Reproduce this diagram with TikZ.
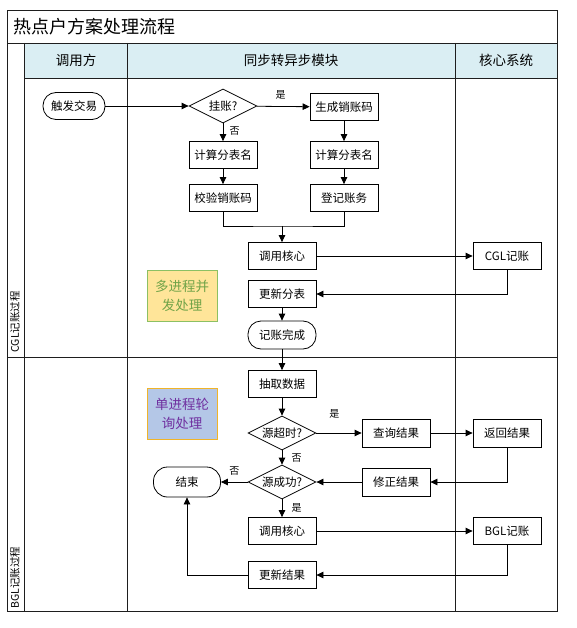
\documentclass[tikz,border=0pt]{standalone}
\usepackage{fontspec}
\setmainfont{Noto Sans CJK SC}
\usepackage{tikz}
\usetikzlibrary{arrows.meta,shapes.geometric}
\definecolor{HeadFill}{RGB}{218,238,243}
\definecolor{NoteYellow}{RGB}{255,229,153}
\definecolor{NoteGreen}{RGB}{140,192,99}
\definecolor{TextGreen}{RGB}{112,163,72}
\definecolor{NoteBlue}{RGB}{180,199,231}
\definecolor{NoteGold}{RGB}{240,180,41}
\definecolor{TextPurple}{RGB}{112,48,160}
\definecolor{LineGray}{RGB}{30,30,30}

\begin{document}
\begin{tikzpicture}[x=1pt,y=-1pt,line width=0.8pt,
    font=\fontsize{11.5}{13}\selectfont,
    proc/.style={draw, rectangle, minimum width=68pt, minimum height=27pt, inner sep=1pt},
    term/.style={draw, rectangle, rounded corners=13pt, minimum width=68pt, minimum height=28pt, inner sep=1pt},
    decide/.style={draw, diamond, aspect=2, minimum width=68pt, minimum height=34pt, inner sep=0.5pt},
    note/.style={rectangle, line width=1pt, minimum width=70pt, minimum height=51pt, align=center, font=\fontsize{13.5}{19}\selectfont},
    arr/.style={-{Triangle[length=7pt,width=6.5pt]}},
    yn/.style={font=\fontsize{10}{12}\selectfont}]
        \useasboundingbox (0,0) rectangle (577,628);
        \fill[HeadFill] (24,43) rectangle (557,78);
        \draw[LineGray] (7,10) rectangle (557,611);
        \draw[LineGray] (7,43) -- (557,43);
        \draw[LineGray] (24,78) -- (557,78);
        \draw[LineGray] (7,357) -- (557,357);
        \draw[LineGray] (24,43) -- (24,611);
        \draw[LineGray] (127,43) -- (127,611);
        \draw[LineGray] (455,43) -- (455,611);
        \node[anchor=west, font=\fontsize{18}{20}\selectfont] (title) at (10,27) {热点户方案处理流程};
        \node[font=\fontsize{13.5}{15}\selectfont] (colcaller) at (76,60) {调用方};
        \node[font=\fontsize{13.5}{15}\selectfont] (colmodule) at (291,60) {同步转异步模块};
        \node[font=\fontsize{13.5}{15}\selectfont] (colcore) at (506,60) {核心系统};
        \node[rotate=90, anchor=west, inner sep=0pt, font=\fontsize{10.5}{12}\selectfont] (lanecgl) at (15,353) {CGL记账过程};
        \node[rotate=90, anchor=west, inner sep=0pt, font=\fontsize{10.5}{12}\selectfont] (lanebgl) at (15,609) {BGL记账过程};

        \node[note, draw=NoteGreen, fill=NoteYellow, text=TextGreen] (multi) at (182,296) {多进程并\\发处理};
        \node[note, draw=NoteGold, fill=NoteBlue, text=TextPurple] (single) at (182,414) {单进程轮\\询处理};

        \node[term, minimum width=62pt, minimum height=27pt] (trigger) at (74,106) {触发交易};
        \node[decide] (hang) at (223,106) {挂账?};
        \node[proc] (gen) at (344,107) {生成销账码};
        \node[proc] (calcA) at (223,155) {计算分表名};
        \node[proc] (calcB) at (344,155) {计算分表名};
        \node[proc] (check) at (223,198) {校验销账码};
        \node[proc] (book) at (344,198) {登记账务};
        \coordinate (merge) at (282,226);
        \node[proc] (callA) at (282,256) {调用核心};
        \node[proc] (cgl) at (507,256) {CGL记账};
        \node[proc] (updA) at (282,294) {更新分表};
        \node[term] (done) at (282,335) {记账完成};
        \node[proc] (fetch) at (282,384) {抽取数据};
        \node[decide] (timeout) at (282,433) {源超时?};
        \node[proc, minimum height=28pt] (query) at (396,433) {查询结果};
        \node[proc, minimum height=28pt] (ret) at (507,433) {返回结果};
        \node[decide] (succ) at (282,482) {源成功?};
        \node[proc, minimum height=28pt] (fix) at (396,482) {修正结果};
        \node[term, minimum width=67pt, minimum height=30pt, rounded corners=14pt] (finish) at (187,482) {结束};
        \node[proc] (callB) at (282,531) {调用核心};
        \node[proc] (bgl) at (507,531) {BGL记账};
        \node[proc] (updB) at (282,575) {更新结果};

        \draw[arr] (trigger) -- (hang);
        \draw[arr] (hang) -- (gen) node[yn, pos=0.45, above=3pt] (yes1) {是};
        \draw[arr] (hang) -- (calcA) node[yn, pos=0.45, right=3pt] (no1) {否};
        \draw[arr] (gen) -- (calcB);
        \draw[arr] (calcA) -- (check);
        \draw[arr] (calcB) -- (book);
        \draw (check.south) |- (merge) -| (book.south);
        \draw[arr] (merge) -- (callA);
        \draw[arr] (callA) -- (cgl);
        \draw[arr] (cgl.south) |- (updA.east);
        \draw[arr] (updA) -- (done);
        \draw[arr] (done) -- (fetch);
        \draw[arr] (fetch) -- (timeout);
        \draw[arr] (timeout) -- (query) node[yn, pos=0.4, above=11pt] (yes2) {是};
        \draw[arr] (query) -- (ret);
        \draw[arr] (ret.south) |- (fix.east);
        \draw[arr] (fix) -- (succ);
        \draw[arr] (timeout) -- (succ) node[yn, midway, right=6pt] (no2) {否};
        \draw[arr] (succ) -- (finish) node[yn, midway, above=3pt] (no3) {否};
        \draw[arr] (succ) -- (callB) node[yn, midway, right=6pt] (yes3) {是};
        \draw[arr] (callB) -- (bgl);
        \draw[arr] (bgl.south) |- (updB.east);
        \draw[arr] (updB.west) -| (finish.south);
      \end{tikzpicture}
\end{document}
